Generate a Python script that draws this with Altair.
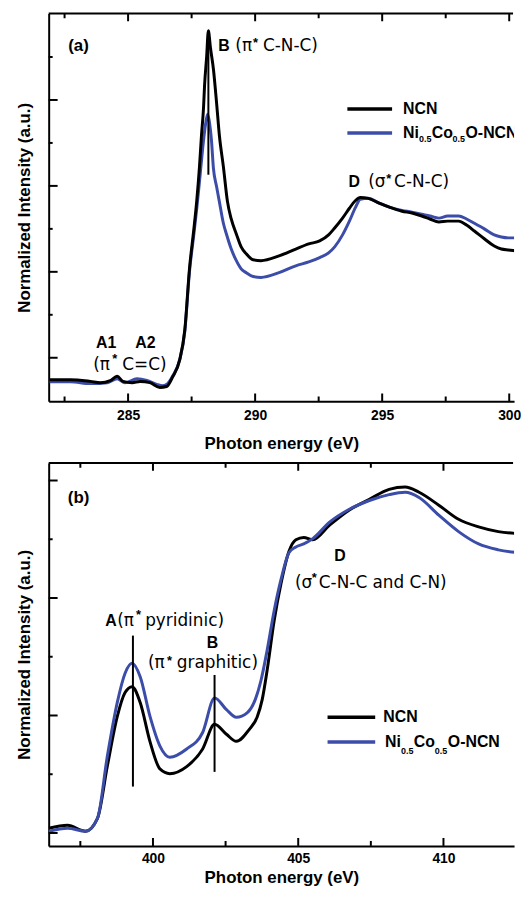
import altair as alt
import pandas as pd

BLACK = "#000000"
BLUE = "#3b4da8"
BOLD_FONT = "Liberation Sans"
TEXT_FONT = "DejaVu Sans"

# ---------------- Panel (a): C K-edge ----------------
ea_ncn = [281.91, 282.73, 283.52, 283.91, 284.30, 284.57, 284.80, 285.16, 285.47, 285.86,
          286.25, 286.52, 286.76, 287.03, 287.23, 287.42, 287.58, 287.70, 287.81, 287.89,
          287.97, 288.01, 288.09, 288.16, 288.24, 288.36, 288.48, 288.59, 288.75, 288.91,
          289.06, 289.26, 289.45, 289.65, 289.92, 290.23, 290.94, 291.60, 292.11, 292.54,
          292.89, 293.13, 293.44, 293.71, 293.95, 294.14, 294.45, 294.88, 295.31, 295.78,
          296.17, 296.56, 296.88, 297.23, 297.58, 298.01, 298.32, 298.63, 299.02, 299.41,
          299.69, 299.96, 300.31, 300.66]
ia_ncn = [0.49, 0.49, 0.45, 0.42, 0.47, 0.57, 0.45, 0.42, 0.45, 0.42,
          0.31, 0.33, 0.56, 0.95, 1.64, 3.10, 3.95, 4.64, 5.45, 6.19,
          6.83, 7.34, 7.99, 8.61, 8.22, 7.71, 6.95, 6.19, 5.45, 4.64,
          4.23, 3.88, 3.58, 3.42, 3.28, 3.26, 3.37, 3.53, 3.65, 3.72,
          3.86, 4.02, 4.25, 4.48, 4.66, 4.73, 4.71, 4.60, 4.50, 4.41,
          4.37, 4.30, 4.23, 4.16, 4.18, 4.18, 4.09, 3.95, 3.77, 3.60,
          3.53, 3.51, 3.49, 3.49]
ea_ni = [281.91, 282.73, 283.52, 284.18, 284.57, 284.88, 285.35, 285.74, 286.13, 286.37,
         286.56, 286.76, 287.03, 287.23, 287.42, 287.58, 287.70, 287.81, 287.93, 288.05,
         288.13, 288.20, 288.28, 288.36, 288.48, 288.59, 288.75, 288.87, 289.06, 289.26,
         289.45, 289.65, 289.92, 290.23, 290.94, 291.60, 292.11, 292.54, 292.89, 293.13,
         293.44, 293.71, 293.95, 294.14, 294.45, 294.88, 295.31, 295.78, 296.17, 296.56,
         296.88, 297.23, 297.58, 298.01, 298.32, 298.63, 299.02, 299.41, 299.69, 299.96,
         300.31, 300.66]
ia_ni = [0.44, 0.44, 0.40, 0.42, 0.51, 0.42, 0.51, 0.47, 0.38, 0.35,
         0.40, 0.58, 0.95, 1.60, 3.03, 3.83, 4.46, 5.10, 5.84, 6.44,
         6.67, 6.49, 6.07, 5.40, 4.99, 4.64, 4.13, 3.88, 3.53, 3.26,
         3.07, 2.98, 2.89, 2.87, 2.98, 3.14, 3.23, 3.33, 3.44, 3.58,
         3.86, 4.18, 4.50, 4.69, 4.71, 4.60, 4.50, 4.43, 4.39, 4.34,
         4.30, 4.25, 4.30, 4.30, 4.23, 4.13, 4.00, 3.86, 3.81, 3.79,
         3.79, 3.79]

# ---------------- Panel (b): N K-edge ----------------
eb_ncn = [396.41, 397.06, 397.68, 398.09, 398.43, 398.77, 399.04, 399.28, 399.56, 399.90,
          400.24, 400.58, 401.16, 401.71, 402.12, 402.53, 402.87, 403.31, 403.59, 403.76,
          403.93, 404.17, 404.41, 404.68, 404.92, 405.19, 405.50, 406.08, 406.76, 407.45,
          408.13, 408.68, 409.16, 409.84, 410.52, 411.21, 411.89, 412.85]
ib_ncn = [1.08, 1.13, 1.03, 1.25, 2.14, 2.98, 3.39, 3.49, 3.22, 2.55,
          2.09, 2.01, 2.13, 2.43, 2.85, 2.68, 2.56, 2.76, 2.98, 3.27,
          3.77, 4.61, 5.25, 5.79, 5.99, 6.03, 5.99, 6.24, 6.50, 6.68,
          6.85, 6.89, 6.80, 6.58, 6.34, 6.21, 6.13, 6.09]
eb_ni = [396.41, 397.06, 397.68, 398.09, 398.43, 398.77, 399.04, 399.28, 399.56, 399.90,
         400.24, 400.58, 401.16, 401.71, 402.12, 402.53, 402.87, 403.25, 403.52, 403.72,
         403.93, 404.17, 404.41, 404.68, 404.92, 405.19, 405.50, 406.08, 406.76, 407.45,
         408.13, 408.68, 409.16, 409.84, 410.52, 411.21, 411.89, 412.85]
ib_ni = [1.03, 1.08, 1.03, 1.25, 2.31, 3.22, 3.72, 3.89, 3.66, 2.98,
         2.48, 2.29, 2.43, 2.71, 3.30, 3.10, 2.97, 3.05, 3.27, 3.60,
         4.11, 4.78, 5.32, 5.77, 5.87, 5.92, 6.01, 6.29, 6.51, 6.66,
         6.76, 6.80, 6.71, 6.41, 6.13, 5.92, 5.82, 5.76]

# axis ticks
xa_major = [285, 290, 295, 300]
xa_minor = [282.5, 287.5, 292.5, 297.5]
xb_major = [400, 405, 410]
xb_minor = [397.5, 402.5, 407.5, 412.5]
ya_major = [1, 3, 5, 7]
ya_minor = [2, 4, 6, 8]
yb_major = [1, 3, 5, 7]
yb_minor = [2, 4, 6]

LEGEND_NAMES = ["NCN", "Ni", "0.5", "Co", "0.5", "O-NCN"]

panel_a = dict(
    W=469, H=391, xdom=[281.875, 300.19], ydom=[-0.015, 9.015],
    xmajor=xa_major, xminor=xa_minor, ymajor=ya_major, yminor=ya_minor,
    label_pad=7, title_pad=13,
    series=[(ea_ni, ia_ni, BLUE), (ea_ncn, ia_ncn, BLACK)],
    bold=[("(a)", 283.05, 8.26, "center", 17), ("B", 288.55, 8.26, "left", 16),
          ("D", 293.67, 5.10, "left", 16), ("A1", 284.14, 1.34, "center", 16),
          ("A2", 285.68, 1.34, "center", 16)],
    normal=[("(π", 289.22, 8.26), ("C-N-C)", 290.31, 8.26),
            ("(σ", 294.45, 5.10), ("C-N-C)", 295.47, 5.10),
            ("(π", 283.63, 0.84), ("C=C)", 284.77, 0.84)],
    stars=[("*", 289.92, 8.33), ("*", 295.16, 5.17), ("*", 284.38, 0.97)],
    vlines=[(288.16, 8.61, 5.26)],
    leg_x=[293.63, 295.39], leg_y=[6.79, 6.23],
    leg_text=[295.82, 295.82, 296.45, 296.95, 297.77, 298.28], leg_sub_y=6.09,
)
panel_b = dict(
    W=469, H=386, xdom=[396.41, 412.43], ydom=[0.78, 7.30],
    xmajor=xb_major, xminor=xb_minor, ymajor=yb_major, yminor=yb_minor,
    label_pad=6, title_pad=4,
    series=[(eb_ncn, ib_ncn, BLACK), (eb_ni, ib_ni, BLUE)],
    bold=[("(b)", 397.44, 6.71, "center", 17), ("A", 398.36, 4.61, "left", 16),
          ("B", 402.05, 4.24, "center", 16), ("D", 406.44, 5.72, "center", 16)],
    normal=[("(π", 398.77, 4.61), ("pyridinic)", 399.73, 4.61),
            ("(π", 399.83, 3.89), ("graphitic)", 400.82, 3.89),
            ("(σ", 404.89, 5.25), ("C-N-C and C-N)", 405.71, 5.25)],
    stars=[("*", 399.42, 4.71), ("*", 400.48, 3.92), ("*", 405.47, 5.34)],
    vlines=[(399.31, 4.36, 1.79), (402.12, 3.69, 2.04)],
    leg_x=[406.01, 407.65], leg_y=[2.97, 2.55],
    leg_text=[407.93, 407.99, 408.54, 408.98, 409.70, 410.15], leg_sub_y=2.39,
)


def build(cfg):
    W, H = cfg["W"], cfg["H"]
    X = alt.X("e:Q", scale=alt.Scale(domain=cfg["xdom"], nice=False, zero=False),
              axis=alt.Axis(title="Photon energy (eV)", values=cfg["xmajor"], format="d",
                            ticks=False, tickSize=0, domain=True, domainColor=BLACK,
                            domainWidth=2, grid=False, labelFont=BOLD_FONT,
                            labelFontWeight="bold", labelFontSize=14, labelColor=BLACK,
                            labelPadding=cfg["label_pad"], titleFont=BOLD_FONT,
                            titleFontWeight="bold", titleFontSize=17, titleColor=BLACK,
                            titlePadding=cfg["title_pad"]))
    Y = alt.Y("v:Q", scale=alt.Scale(domain=cfg["ydom"], nice=False, zero=False),
              axis=alt.Axis(title="Normalized Intensity (a.u.)", labels=False, ticks=False,
                            tickSize=0, domain=True, domainColor=BLACK, domainWidth=2,
                            grid=False, titleFont=BOLD_FONT, titleFontWeight="bold",
                            titleFontSize=17, titleColor=BLACK, titlePadding=15))
    layers = []
    for e, v, c in cfg["series"]:
        df = pd.DataFrame({"e": e, "v": v})
        layers.append(alt.Chart(df).mark_line(color=c, strokeWidth=3, clip=True,
                                              interpolate="monotone")
                      .encode(x=X, y=Y))
    # inward ticks
    for vals, ln in [(cfg["xmajor"], 8), (cfg["xminor"], 5)]:
        df = pd.DataFrame({"e": vals})
        layers.append(alt.Chart(df).mark_rule(color=BLACK, strokeWidth=2, clip=True)
                      .encode(x=X, y=alt.value(H), y2=alt.value(H - ln)))
        layers.append(alt.Chart(df).mark_rule(color=BLACK, strokeWidth=2, clip=True)
                      .encode(x=X, y=alt.value(0), y2=alt.value(ln)))
    for vals, ln in [(cfg["ymajor"], 9), (cfg["yminor"], 4)]:
        df = pd.DataFrame({"v": vals})
        layers.append(alt.Chart(df).mark_rule(color=BLACK, strokeWidth=2)
                      .encode(y=Y, x=alt.value(0), x2=alt.value(ln)))
    # top frame line
    layers.append(alt.Chart(pd.DataFrame({"a": [0]})).mark_rule(color=BLACK, strokeWidth=2)
                  .encode(x=alt.value(0), x2=alt.value(W - 1), y=alt.value(0)))
    # peak marker lines
    df = pd.DataFrame(cfg["vlines"], columns=["e", "v", "v2"])
    layers.append(alt.Chart(df).mark_rule(color=BLACK, strokeWidth=2)
                  .encode(x=X, y=Y, y2="v2:Q"))
    # annotations
    for t, e, v, al, fs in cfg["bold"]:
        df = pd.DataFrame({"t": [t], "e": [e], "v": [v]})
        layers.append(alt.Chart(df).mark_text(font=BOLD_FONT, fontWeight="bold", fontSize=fs,
                                              align=al, baseline="middle", color=BLACK)
                      .encode(x=X, y=Y, text="t:N"))
    df = pd.DataFrame(cfg["normal"], columns=["t", "e", "v"])
    layers.append(alt.Chart(df).mark_text(font=TEXT_FONT, fontSize=17, align="left",
                                          baseline="middle", color=BLACK)
                  .encode(x=X, y=Y, text="t:N"))
    df = pd.DataFrame(cfg["stars"], columns=["t", "e", "v"])
    layers.append(alt.Chart(df).mark_text(font=BOLD_FONT, fontWeight="bold", fontSize=13,
                                          align="left", baseline="middle", color=BLACK)
                  .encode(x=X, y=Y, text="t:N"))
    # legend (drawn by hand so that subscripts can be shown)
    x0, x1 = cfg["leg_x"]
    for yv, c in zip(cfg["leg_y"], [BLACK, BLUE]):
        df = pd.DataFrame({"e": [x0], "e2": [x1], "v": [yv]})
        layers.append(alt.Chart(df).mark_rule(color=c, strokeWidth=3.5)
                      .encode(x=X, x2="e2:Q", y=Y))
    lt = cfg["leg_text"]
    y_main = [cfg["leg_y"][0]] + [cfg["leg_y"][1]] * 5
    sizes = [16, 16, 9, 16, 9, 16]
    for i, name in enumerate(LEGEND_NAMES):
        yv = cfg["leg_sub_y"] if sizes[i] == 9 else y_main[i]
        df = pd.DataFrame({"t": [name], "e": [lt[i]], "v": [yv]})
        layers.append(alt.Chart(df).mark_text(font=BOLD_FONT, fontWeight="bold",
                                              fontSize=sizes[i], align="left",
                                              baseline="middle", color=BLACK, clip=True)
                      .encode(x=X, y=Y, text="t:N"))
    return alt.layer(*layers).properties(width=W, height=H)


chart = alt.vconcat(build(panel_a), build(panel_b), spacing=11).properties(
    padding={"left": 8, "top": 1, "right": 0, "bottom": 0}
).configure_view(stroke=None)

chart.save("out.html", embed_options={"renderer": "svg", "actions": False})
